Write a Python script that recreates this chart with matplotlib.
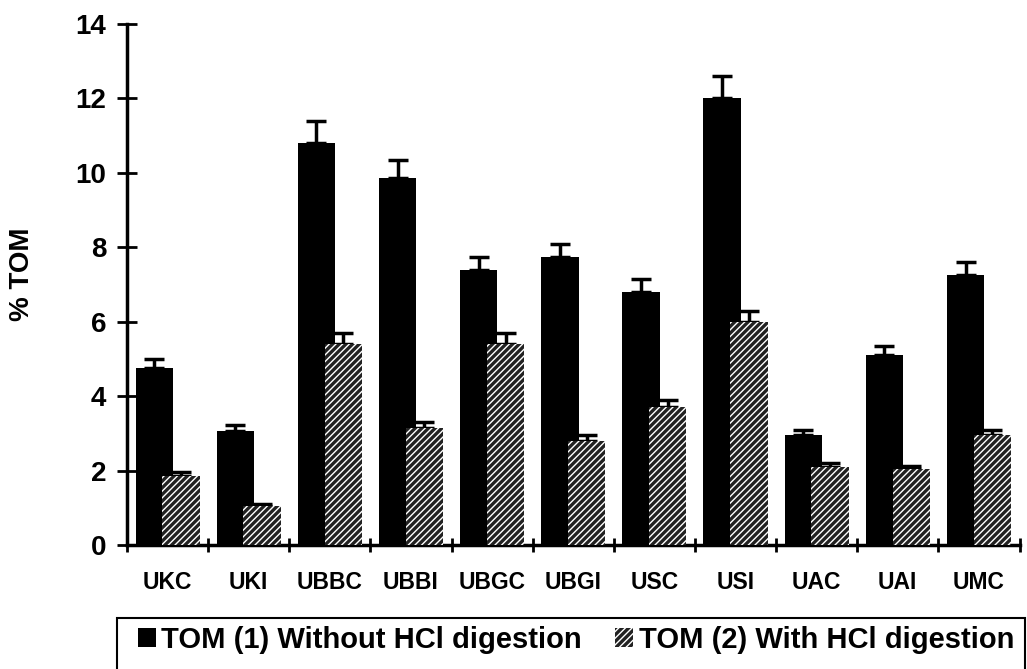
import matplotlib.pyplot as plt
from matplotlib.patches import Rectangle
import numpy as np

# datos
sites = ['UKC', 'UKI', 'UBBC', 'UBBI', 'UBGC', 'UBGI', 'USC', 'USI', 'UAC', 'UAI', 'UMC']
tom1 = [4.75, 3.05, 10.8, 9.85, 7.4, 7.75, 6.8, 12.0, 2.95, 5.1, 7.25]
tom1_err = [0.25, 0.17, 0.6, 0.5, 0.35, 0.35, 0.35, 0.6, 0.15, 0.25, 0.35]
tom2 = [1.85, 1.05, 5.4, 3.15, 5.4, 2.8, 3.7, 6.0, 2.1, 2.05, 2.95]
tom2_err = [0.1, 0.05, 0.3, 0.15, 0.3, 0.15, 0.2, 0.3, 0.1, 0.07, 0.15]

plt.rcParams['font.family'] = ['Liberation Sans', 'DejaVu Sans']
plt.rcParams['font.weight'] = 'bold'
plt.rcParams['hatch.color'] = 'white'
plt.rcParams['hatch.linewidth'] = 1.0

fig = plt.figure(figsize=(10.27, 6.69), dpi=100)
ax = fig.add_axes([0.1237, 0.1853, 0.869, 0.779])

x = np.arange(len(sites))
w = 0.46
n = len(sites)

# barras de error solo hacia arriba (por debajo de las barras)
ax.errorbar(x - 0.165, tom1, yerr=[np.zeros(n), tom1_err], fmt='none', ecolor='black',
            elinewidth=2.5, capsize=7, capthick=2.5, zorder=1)
ax.errorbar(x + 0.165, tom2, yerr=[np.zeros(n), tom2_err], fmt='none', ecolor='black',
            elinewidth=2.5, capsize=7, capthick=2.5, zorder=1)

b1 = ax.bar(x - 0.165, tom1, w, color='black', linewidth=0,
            label='TOM (1) Without HCl digestion', zorder=2)
b2 = ax.bar(x + 0.165, tom2, w, facecolor='#222222', linewidth=0, hatch='/////',
            label='TOM (2) With HCl digestion', zorder=3)

ax.set_xlim(-0.5, n - 0.5)
ax.set_ylim(0, 14)
ax.set_yticks(np.arange(0, 15, 2))
ax.set_xticks(x)
ax.set_xticklabels(sites, fontsize=16.5, fontweight='bold')
ax.set_xticks(np.arange(-0.5, n, 1), minor=True)
ax.tick_params(axis='x', which='major', length=0, pad=19)
ax.tick_params(axis='x', which='minor', direction='inout', length=10, width=2)
ax.tick_params(axis='y', direction='inout', length=14, width=2, labelsize=20, pad=8)
for lab in ax.get_yticklabels():
    lab.set_fontweight('bold')

ax.spines['top'].set_visible(False)
ax.spines['right'].set_visible(False)
ax.spines['left'].set_linewidth(2.5)
ax.spines['bottom'].set_linewidth(2.5)
fig.text(0.021, 0.59, '% TOM', rotation=90, ha='center', va='center',
         fontsize=20, fontweight='bold')

# leyenda sin marco + recuadro aparte (cortado por abajo como en el original)
leg = fig.legend(handles=[b1, b2], loc='center left', ncol=2, mode='expand',
                 bbox_to_anchor=(0.1344, 0.0433, 0.853, 0), fontsize=21, frameon=False,
                 handlelength=0.6, handleheight=0.6, handletextpad=0.2,
                 columnspacing=1.0, borderpad=0, borderaxespad=0)
fig.add_artist(Rectangle((117 / 1027, -0.05), (1025 - 117) / 1027, 0.05 + 51 / 669,
                         transform=fig.transFigure, fill=False, edgecolor='black',
                         linewidth=1.5, clip_on=False))

fig.savefig('out.png', dpi=100)
